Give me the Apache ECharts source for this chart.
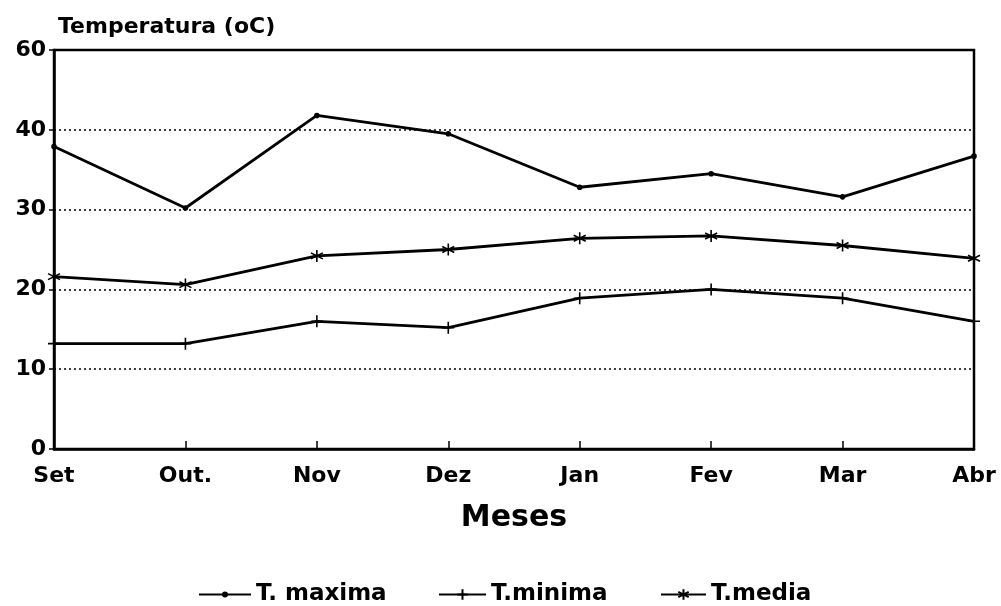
<!DOCTYPE html>
<html>
<head>
<meta charset="utf-8">
<script src="https://cdn.jsdelivr.net/npm/echarts@6/dist/echarts.min.js"></script>
<style>
  html, body { margin: 0; padding: 0; background: #fff; }
  #chart { width: 1001px; height: 606px; }
</style>
</head>
<body>
<div id="chart"></div>
<script>
const months = ["Set", "Out.", "Nov", "Dez", "Jan", "Fev", "Mar", "Abr"];
const tMaxima = [37.9, 30.2, 41.8, 39.5, 32.8, 34.5, 31.6, 36.7];
const tMinima = [13.2, 13.2, 16.0, 15.2, 18.9, 20.0, 18.9, 16.0];
const tMedia = [21.6, 20.6, 24.2, 25.0, 26.4, 26.7, 25.5, 23.9];
// the original axis is labelled 0..40 then 60 at the top of the frame
const yTicks = [0, 10, 20, 30, 40, 50];
const yTickLabels = ["0", "10", "20", "30", "40", "60"];

const font = "'DejaVu Sans', 'Liberation Sans', sans-serif";
const plusPath = "path://M5,0L5,10M0,5L10,5";
const starPath = "path://M5,0L5,10M0.7,2.5L9.3,7.5M0.7,7.5L9.3,2.5";

const chart = echarts.init(document.getElementById("chart"));

const mkSeries = (name, data, symbol, size) => ({
  name,
  type: "line",
  data,
  symbol,
  symbolSize: size,
  showAllSymbol: true,
  lineStyle: { color: "#000", width: 2.8 },
  itemStyle: { color: "#000", borderColor: "#000", borderWidth: 1.6 },
  emphasis: { disabled: true }
});

const legendText = { fontFamily: font, fontWeight: "bold", fontSize: 23, color: "#000" };
const mkLegend = (name, left, width, height) => ({
  left, top: 578,
  itemWidth: width, itemHeight: height, itemGap: 0,
  textStyle: legendText,
  selectedMode: false,
  data: [name]
});

chart.setOption({
  animation: false,
  backgroundColor: "#fff",
  textStyle: { fontFamily: font, fontWeight: "bold", color: "#000" },
  grid: {
    left: 54, right: 27, top: 50, bottom: 157,
    show: true, borderColor: "#000", borderWidth: 2.5
  },
  legend: [
    mkLegend("T. maxima", 193, 52, 5),
    mkLegend("T.minima", 433, 47, 13),
    mkLegend("T.media", 655, 45, 13)
  ],
  xAxis: {
    type: "category",
    data: months,
    boundaryGap: false,
    name: "Meses",
    nameLocation: "middle",
    nameGap: 54,
    nameTextStyle: { fontFamily: font, fontWeight: "bold", fontSize: 30, color: "#000" },
    axisLine: { lineStyle: { color: "#000", width: 2.5 } },
    axisTick: { inside: true, length: 8, lineStyle: { color: "#000", width: 1.5 } },
    axisLabel: { fontFamily: font, fontWeight: "bold", fontSize: 22, color: "#000", margin: 16, interval: 0 },
    splitLine: { show: false }
  },
  yAxis: {
    type: "value",
    min: yTicks[0],
    max: yTicks[yTicks.length - 1],
    interval: 10,
    name: "Temperatura (oC)",
    nameLocation: "end",
    nameGap: 12,
    nameTextStyle: { fontFamily: font, fontWeight: "bold", fontSize: 22, color: "#000", align: "left", padding: [0, 0, 0, 4] },
    axisLine: { show: true, lineStyle: { color: "#000", width: 2.5 } },
    axisTick: { show: true, length: 5, lineStyle: { color: "#000", width: 1.5 } },
    axisLabel: {
      fontFamily: font, fontWeight: "bold", fontSize: 22, color: "#000", margin: 8,
      formatter: v => yTickLabels[yTicks.indexOf(v)] ?? ""
    },
    splitLine: { show: true, lineStyle: { color: "#000", width: 1.5, type: [2, 3] } }
  },
  series: [
    mkSeries("T. maxima", tMaxima, "circle", 4),
    mkSeries("T.minima", tMinima, plusPath, 12),
    mkSeries("T.media", tMedia, starPath, 12)
  ]
});
</script>
</body>
</html>
